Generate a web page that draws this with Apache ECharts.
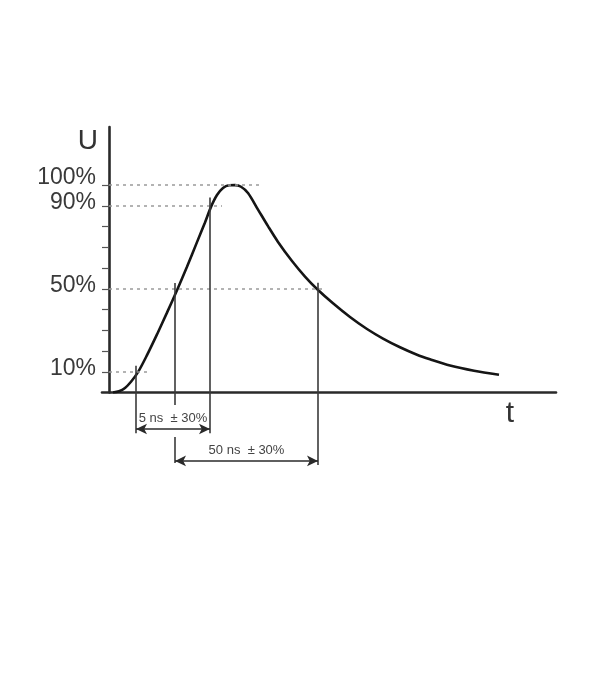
<!DOCTYPE html>
<html>
<head>
<meta charset="utf-8">
<script src="https://cdn.jsdelivr.net/npm/echarts@6/dist/echarts.min.js"></script>
<style>
html,body{margin:0;padding:0;background:#fff;}
#c{width:600px;height:700px;}
</style>
</head>
<body>
<div id="c"></div>
<script>
// Pulse shape (time in arbitrary units, U in % of peak)
var tValues = [4, 10, 16, 22, 29, 38, 48, 58, 68, 78, 88, 96, 102, 108, 114, 120, 126, 132, 139, 149, 159, 169, 183, 196, 208, 224, 241, 258, 274, 291, 308, 321, 341, 365, 390];
var uValues = [0, 0.6, 2.2, 5.2, 9.8, 18, 28, 38.5, 49.3, 60.6, 72.5, 82, 89.5, 95.2, 98.6, 99.9, 100, 99.2, 96.2, 88.2, 80.2, 72.6, 63.4, 55.9, 49.9, 43, 36.4, 30.6, 26, 21.8, 18.2, 16, 13, 10.5, 8.6];
var yTickValues = [10, 20, 30, 40, 50, 60, 70, 80, 90, 100];
var yLabelValues = [10, 50, 90, 100];
// reference levels and where their dashed guides end (t)
var guideLevels = [100, 90, 50, 10];
var guideEnds = [154, 113, 216, 38];
// crossing markers: t, top U, bottom U
var markerT = [27, 66, 101, 209];
var markerTop = [12.9, 52.8, 94, 52.9];
var markerBottom = [-19.6, -6, -19.6, -35];
var markerExtraFrom = [-21.5];   // second segment of the 50% marker (t = 66)
var markerExtraTo = [-34];
// dimension arrows: from t, to t, level U, text
var dimFrom = [27, 66];
var dimTo = [101, 209];
var dimLevel = [-17.6, -33];
var dimText = ['5 ns  ± 30%', '50 ns  ± 30%'];

var font = "'Liberation Sans', Arial, Helvetica, sans-serif";
var curve = tValues.map(function (t, i) { return [t, uValues[i]]; });

var solid = { color: '#3a3a3a', width: 1.6, type: 'solid' };
var ml = [];
guideLevels.forEach(function (lv, i) {
  ml.push([
    { coord: [0, lv], lineStyle: { color: '#9a9a9a', width: 1.6, type: [3, 4] }, symbol: 'none' },
    { coord: [guideEnds[i], lv], symbol: 'none' }
  ]);
});
markerT.forEach(function (t, i) {
  ml.push([
    { coord: [t, markerTop[i]], lineStyle: solid, symbol: 'none' },
    { coord: [t, markerBottom[i]], symbol: 'none' }
  ]);
});
ml.push([
  { coord: [markerT[1], markerExtraFrom[0]], lineStyle: solid, symbol: 'none' },
  { coord: [markerT[1], markerExtraTo[0]], symbol: 'none' }
]);
dimFrom.forEach(function (f, i) {
  ml.push([
    { coord: [f, dimLevel[i]], symbol: 'arrow', symbolSize: [8, 11],
      lineStyle: { color: '#2a2a2a', width: 1.6, type: 'solid' },
      label: { show: true, position: 'middle', formatter: dimText[i], color: '#444', fontSize: 13, fontFamily: font, distance: 4 } },
    { coord: [dimTo[i], dimLevel[i]], symbol: 'arrow', symbolSize: [8, 11] }
  ]);
});

var chart = echarts.init(document.getElementById('c'), null, { renderer: 'canvas' });
chart.setOption({
  animation: false,
  backgroundColor: '#fff',
  grid: [
    { left: 102, right: 44, top: 127, bottom: 307.5, containLabel: false },
    // annotation layer: same time scale, U scale extended below zero
    { left: 102, right: 44, top: 127, bottom: 224.53, containLabel: false }
  ],
  xAxis: [{
    type: 'value', min: -7, max: 447, gridIndex: 0,
    splitLine: { show: false },
    axisTick: { show: false },
    axisLabel: { show: false },
    axisLine: { show: true, onZero: true, lineStyle: { color: '#2a2a2a', width: 2.6 } },
    name: 't', nameLocation: 'end', nameGap: -46,
    nameTextStyle: { fontSize: 30, color: '#333', fontFamily: font, align: 'center', verticalAlign: 'top', padding: [6, 0, 0, 0] }
  }, {
    type: 'value', min: -7, max: 447, gridIndex: 1, show: false
  }],
  yAxis: [{
    type: 'value', min: 0, max: 128, gridIndex: 0,
    splitLine: { show: false },
    axisLine: { show: true, onZero: true, lineStyle: { color: '#2a2a2a', width: 2.6 } },
    axisTick: { show: true, customValues: yTickValues, length: 7, lineStyle: { color: '#555', width: 1.2 } },
    axisLabel: {
      show: true, customValues: yLabelValues, margin: 6,
      formatter: function (v) { return v === 100 ? '{b|' + v + '%}' : '{a|' + v + '%}'; },
      rich: {
        a: { fontSize: 23, color: '#3a3a3a', fontFamily: font, padding: [0, 0, 6, 0] },
        b: { fontSize: 23, color: '#3a3a3a', fontFamily: font, padding: [0, 0, 15, 0] }
      }
    },
    name: 'U', nameLocation: 'end', nameGap: -14,
    nameTextStyle: { fontSize: 28, color: '#333', fontFamily: font, align: 'right', verticalAlign: 'middle', padding: [0, 11, 0, 0] }
  }, {
    type: 'value', min: -40, max: 128, gridIndex: 1, show: false
  }],
  series: [{
    type: 'line',
    xAxisIndex: 0, yAxisIndex: 0,
    data: curve,
    smooth: 0.3,
    showSymbol: false,
    symbol: 'none',
    lineStyle: { color: '#151515', width: 2.6 },
    z: 3
  }, {
    type: 'line',
    xAxisIndex: 1, yAxisIndex: 1,
    data: [],
    z: 2,
    markLine: { silent: true, animation: false, symbol: 'none', label: { show: false }, data: ml }
  }]
});
</script>
</body>
</html>
